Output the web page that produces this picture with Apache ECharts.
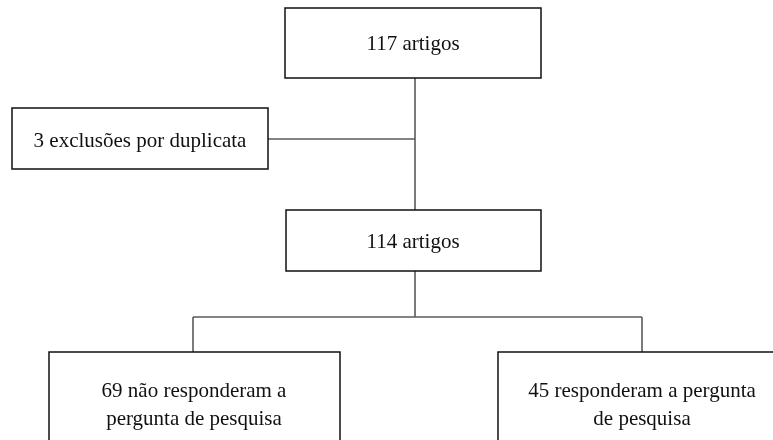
<!DOCTYPE html>
<html>
<head>
<meta charset="utf-8">
<script src="https://cdn.jsdelivr.net/npm/echarts@6/dist/echarts.min.js"></script>
<style>
  html, body { margin: 0; padding: 0; background: #fff; }
  #chart { width: 773px; height: 440px; }
</style>
</head>
<body>
<div id="chart"></div>
<script>
// fluxograma de seleção dos artigos

const nodeLabels = [
  '117 artigos',
  '3 exclusões por duplicata',
  '114 artigos',
  '69 não responderam a\npergunta de pesquisa',
  '45 responderam a pergunta\nde pesquisa'
]
// caixas: [x0, y0, x1, y1] no plano do diagrama
const nodeBoxes = [
  [285, 8, 541, 78],
  [12, 108, 268, 169],
  [286, 210, 541, 271],
  [49, 352, 340, 470],
  [498, 352, 786, 470]
]
// posição do texto dentro de cada caixa: [x, y]
const labelAnchors = [
  [413, 44],
  [140, 141],
  [413, 242],
  [194, 405],
  [642, 405]
]
// conectores: [x0, y0, x1, y1]
const connectors = [
  [415, 78, 415, 210],
  [268, 139, 415, 139],
  [415, 271, 415, 317],
  [193, 317, 642, 317],
  [193, 317, 193, 352],
  [642, 317, 642, 352]
]

const chart = echarts.init(document.getElementById('chart'))

const option = {
  animation: false,
  backgroundColor: '#fff',
  grid: { left: 0, right: 0, top: 0, bottom: 0 },
  xAxis: { type: 'value', min: 0, max: 773, show: false },
  yAxis: { type: 'value', min: 0, max: 440, inverse: true, show: false },
  series: [
    {
      type: 'custom',
      name: 'conectores',
      coordinateSystem: 'cartesian2d',
      data: connectors,
      renderItem: (params, api) => {
        const p0 = api.coord([api.value(0), api.value(1)])
        const p1 = api.coord([api.value(2), api.value(3)])
        return {
          type: 'line',
          shape: { x1: p0[0], y1: p0[1], x2: p1[0], y2: p1[1] },
          style: { stroke: '#5a5a5a', lineWidth: 1.6 }
        }
      }
    },
    {
      type: 'custom',
      name: 'caixas',
      coordinateSystem: 'cartesian2d',
      data: nodeBoxes.map((b, i) => [...b, labelAnchors[i][0], labelAnchors[i][1], i]),
      renderItem: (params, api) => {
        const p0 = api.coord([api.value(0), api.value(1)])
        const p1 = api.coord([api.value(2), api.value(3)])
        const t = api.coord([api.value(4), api.value(5)])
        const idx = api.value(6)
        return {
          type: 'group',
          children: [
            {
              type: 'rect',
              shape: { x: p0[0], y: p0[1], width: p1[0] - p0[0], height: p1[1] - p0[1] },
              style: { fill: '#fff', stroke: '#111', lineWidth: 1.5 }
            },
            {
              type: 'text',
              x: t[0],
              y: t[1],
              style: {
                text: nodeLabels[idx],
                fill: '#111',
                font: '21px "Liberation Serif", "DejaVu Serif", serif',
                align: 'center',
                verticalAlign: 'middle',
                lineHeight: 28
              }
            }
          ]
        }
      }
    }
  ]
}

chart.setOption(option)
window.addEventListener('resize', () => chart.resize())
</script>
</body>
</html>
